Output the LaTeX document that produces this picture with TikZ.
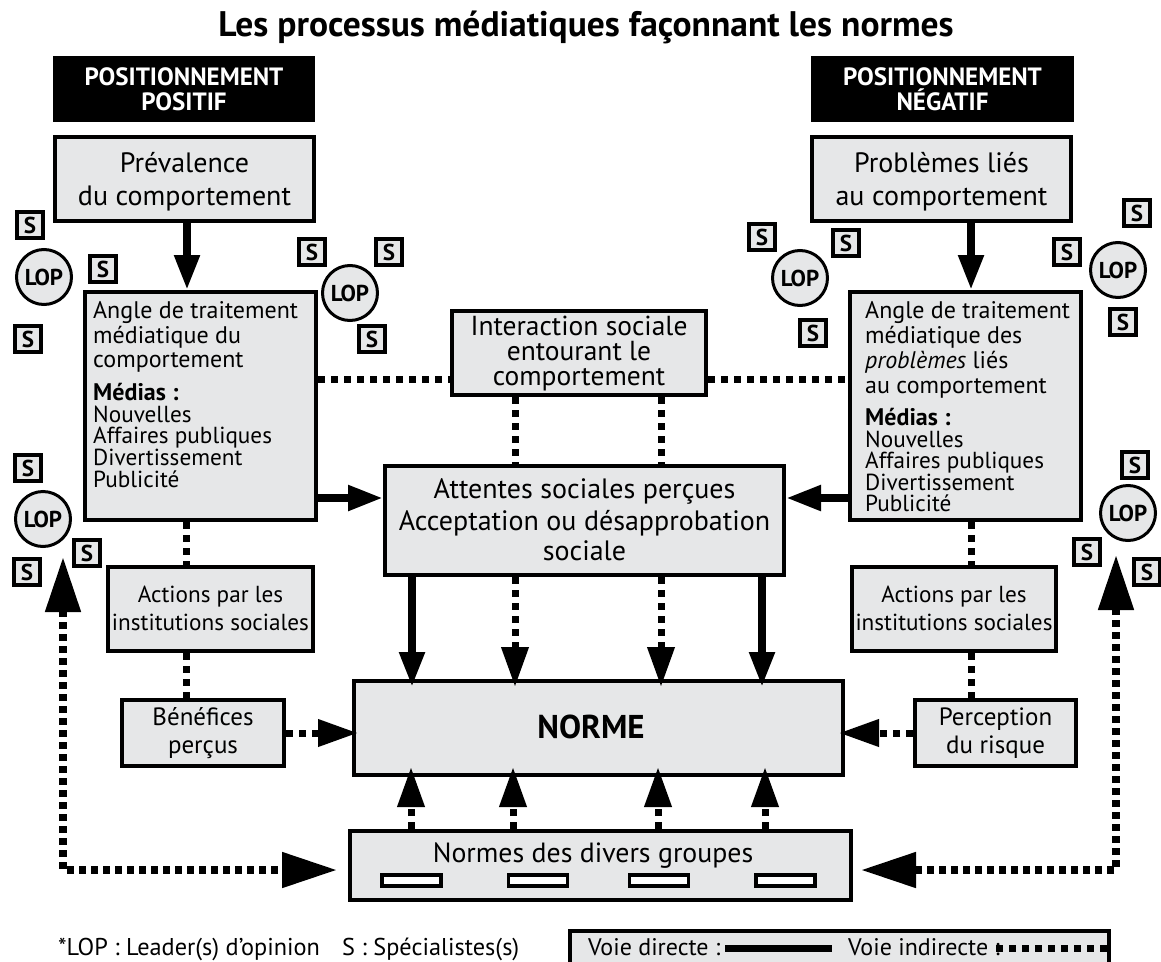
\documentclass[tikz,border=0pt]{standalone}
\usepackage{fontspec}
\setmainfont{PT Sans}
\usetikzlibrary{arrows.meta}
\definecolor{boxgray}{RGB}{230,231,232}
\newcommand{\fsz}[2]{\fontsize{#1}{#2}\selectfont}
\tikzset{
  gbox/.style={draw, line width=4pt, fill=boxgray, inner sep=0pt, align=center},
  blackbox/.style={fill=black, text=white, inner sep=0pt, align=center, font=\fsz{25}{25}\bfseries},
  sbox/.style={draw, line width=3.5pt, fill=boxgray, minimum size=26pt, inner sep=0pt, font=\fsz{23}{23}\bfseries},
  lopc/.style={circle, draw, line width=3pt, fill=boxgray, minimum size=55pt, inner sep=0pt, font=\fsz{23}{23}\bfseries},
  minirect/.style={draw, line width=3.5pt, fill=white, minimum width=59pt, minimum height=11pt, inner sep=0pt},
  direct/.style={line width=8pt, -{Triangle[length=35pt,width=24pt]}},
  indirect/.style={line width=7pt, dash pattern=on 7pt off 6pt},
  indarrow/.style={line width=7pt, dash pattern=on 7pt off 6pt, -{Triangle[length=40pt,width=26pt]}},
  loopline/.style={line width=8pt, dash pattern=on 7pt off 5pt, line join=miter,
     {Triangle[length=55pt,width=34pt]}-{Triangle[length=55pt,width=34pt]}},
  txt/.style={inner sep=0pt, anchor=base west},
  btxt/.style={inner sep=0pt, anchor=base},
  bwtxt/.style={inner sep=0pt, anchor=base west},
  listtxt/.style={inner sep=0pt, anchor=base west, font=\fsz{23.2}{22}},
}
\begin{document}
\begin{tikzpicture}[x=1pt,y=-1pt]
\useasboundingbox (0,0) rectangle (1161,961);

% title
\node[btxt, font=\fsz{35.5}{38}\bfseries] (title) at (586,36) {Les processus médiatiques façonnant les normes};

% black headers
\node[blackbox, minimum width=262pt, minimum height=66pt] (blkL) at (184,89) {POSITIONNEMENT\\POSITIF};
\node[blackbox, minimum width=263pt, minimum height=66pt] (blkR) at (942.5,89) {POSITIONNEMENT\\NÉGATIF};

% top boxes
\node[gbox, minimum width=259pt, minimum height=84pt] (prevL) at (184.5,179) {};
\node[gbox, minimum width=259pt, minimum height=84pt] (prevR) at (941.5,179) {};
\node[btxt, font=\fsz{28}{33}] (prevLa) at (184.5,172) {Prévalence};
\node[btxt, font=\fsz{28}{33}] (prevLb) at (184.5,205) {du comportement};
\node[btxt, font=\fsz{28}{33}] (prevRa) at (941.5,172) {Problèmes liés};
\node[btxt, font=\fsz{28}{33}] (prevRb) at (941.5,205) {au comportement};

% angle boxes
\node[gbox, minimum width=231pt, minimum height=228pt] (angL) at (200.5,406) {};
\node[gbox, minimum width=231pt, minimum height=228pt] (angR) at (965.5,406) {};
\begin{scope}[every node/.style={txt, font=\fsz{24}{24}}]
\node (aL1) at (93,318) {Angle de traitement};
\node (aL2) at (93,343) {médiatique du};
\node (aL3) at (93,367) {comportement};
\node (aL4) at (93,400) {\textbf{Médias :}};
\node (aR1) at (865,318) {Angle de traitement};
\node (aR2) at (865,343) {médiatique des};
\node (aR3) at (865,368) {\textit{problèmes} liés};
\node (aR4) at (865,393) {au comportement};
\node (aR5) at (865,425) {\textbf{Médias :}};
\end{scope}
\node[listtxt] (aL5) at (93,422) {Nouvelles};
\node[listtxt] (aL6) at (93,443.5) {Affaires publiques};
\node[listtxt] (aL7) at (93,465) {Divertissement};
\node[listtxt] (aL8) at (93,487) {Publicité};
\node[listtxt] (aR6) at (865,447) {Nouvelles};
\node[listtxt] (aR7) at (865,468.5) {Affaires publiques};
\node[listtxt] (aR8) at (865,490) {Divertissement};
\node[listtxt] (aR9) at (865,511) {Publicité};

% centre boxes
\node[gbox, minimum width=254pt, minimum height=84pt] (inter) at (579,353) {};
\node[btxt, font=\fsz{27.5}{25}] (intera) at (579,335) {Interaction sociale};
\node[btxt, font=\fsz{27.5}{25}] (interb) at (579,360) {entourant le};
\node[btxt, font=\fsz{27.5}{25}] (interc) at (579,385) {comportement};
\node[gbox, minimum width=399pt, minimum height=109pt] (att) at (584.5,520.5) {};
\node[btxt, font=\fsz{28}{31}] (atta) at (584.5,498) {Attentes sociales perçues};
\node[btxt, font=\fsz{28}{31}] (attb) at (584.5,530) {Acceptation ou désapprobation};
\node[btxt, font=\fsz{28}{31}] (attc) at (584.5,560) {sociale};

% actions
\node[gbox, minimum width=205pt, minimum height=84pt] (actL) at (210.5,609) {};
\node[gbox, minimum width=204pt, minimum height=84pt] (actR) at (954,609) {};
\node[btxt, font=\fsz{23.2}{28}] (actLa) at (210.5,602) {Actions par les};
\node[btxt, font=\fsz{23.2}{28}] (actLb) at (210.5,630) {institutions sociales};
\node[btxt, font=\fsz{23.2}{28}] (actRa) at (954,602) {Actions par les};
\node[btxt, font=\fsz{23.2}{28}] (actRb) at (954,630) {institutions sociales};

% benefits / perception
\node[gbox, minimum width=162pt, minimum height=66pt] (benef) at (203,733) {};
\node[gbox, minimum width=161pt, minimum height=66pt] (percep) at (995.5,733) {};
\node[btxt, font=\fsz{25}{28}] (benefa) at (203,725) {Bénéfices};
\node[btxt, font=\fsz{25}{28}] (benefb) at (203,753) {perçus};
\node[btxt, font=\fsz{25}{28}] (percepa) at (995.5,725) {Perception};
\node[btxt, font=\fsz{25}{28}] (percepb) at (995.5,753) {du risque};

% norme
\node[gbox, minimum width=489pt, minimum height=94pt] (norme) at (598.5,728) {};
\node[btxt, font=\fsz{33}{33}\bfseries] (normet) at (591,738) {NORME};

% normes des divers groupes
\node[gbox, minimum width=501pt, minimum height=69pt] (normes) at (600.5,865.5) {};
\node[btxt, font=\fsz{27.8}{28}] (normest) at (593,862) {Normes des divers groupes};
\node[minirect] (r1) at (411.5,880.5) {};
\node[minirect] (r2) at (538,880.5) {};
\node[minirect] (r3) at (659,880.5) {};
\node[minirect] (r4) at (785.5,880.5) {};

% LOP and S
\node[sbox] (s1) at (30,225) {S};
\node[lopc] (lop1) at (44,277) {LOP};
\node[sbox] (s2) at (103,269) {S};
\node[sbox] (s3) at (28,339) {S};

\node[sbox] (s4) at (312,252) {S};
\node[sbox] (s5) at (389,252) {S};
\node[lopc] (lop2) at (350,293) {LOP};
\node[sbox] (s6) at (372,339) {S};

\node[sbox] (s7) at (762,237) {S};
\node[sbox] (s8) at (846,243) {S};
\node[lopc] (lop3) at (800,278) {LOP};
\node[sbox] (s9) at (813,333) {S};

\node[sbox] (s10) at (1137,213) {S};
\node[sbox] (s11) at (1067,252) {S};
\node[lopc] (lop4) at (1118,270) {LOP};
\node[sbox] (s12) at (1123,322) {S};

\node[sbox] (s13) at (28,468) {S};
\node[lopc] (lop5) at (43,519) {LOP};
\node[sbox] (s14) at (87,553) {S};
\node[sbox] (s15) at (27,572) {S};

\node[sbox] (s16) at (1135,465) {S};
\node[lopc] (lop6) at (1128,513) {LOP};
\node[sbox] (s17) at (1087,552) {S};
\node[sbox] (s18) at (1147,572) {S};

% helper coordinates
\coordinate (xa) at (187,0);
\coordinate (xb) at (971,0);
\coordinate (xc) at (186,0);
\coordinate (y1) at (0,379);
\coordinate (y2) at (0,498);
\coordinate (y3) at (0,733);
\coordinate (v1) at (412,0);
\coordinate (v2) at (515,0);
\coordinate (v3) at (661,0);
\coordinate (v4) at (762,0);
\coordinate (u1) at (411,0);
\coordinate (u2) at (513,0);
\coordinate (u3) at (658,0);
\coordinate (u4) at (765,0);
\coordinate (ltipL) at (63,557);
\coordinate (lcorL) at (63,870);
\coordinate (ltipR) at (1116,555);
\coordinate (lcorR) at (1116,870);

% connectors
\draw[direct] (prevL.south -| xa) -- (angL.north -| xa);
\draw[direct] (prevR.south -| xb) -- (angR.north -| xb);
\draw[indirect] (angL.east |- y1) -- (inter.west |- y1);
\draw[indirect] (inter.east |- y1) -- (angR.west |- y1);
\draw[indirect] (inter.south -| v2) -- (att.north -| v2);
\draw[indirect] (inter.south -| v3) -- (att.north -| v3);
\draw[direct] (angL.east |- y2) -- (att.west |- y2);
\draw[direct] (angR.west |- y2) -- (att.east |- y2);
\draw[indirect] (angL.south -| xc) -- (actL.north -| xc);
\draw[indirect] (actL.south -| xc) -- (benef.north -| xc);
\draw[indirect] (angR.south -| xb) -- (actR.north -| xb);
\draw[indirect] (actR.south -| xb) -- (percep.north -| xb);
\draw[direct, shorten >=-8pt] (att.south -| v1) -- (norme.north -| v1);
\draw[indarrow, shorten >=-8pt] (att.south -| v2) -- (norme.north -| v2);
\draw[indarrow, shorten >=-8pt] (att.south -| v3) -- (norme.north -| v3);
\draw[direct, shorten >=-8pt] (att.south -| v4) -- (norme.north -| v4);
\draw[indarrow, shorten >=-10pt] (normes.north -| u1) -- (norme.south -| u1);
\draw[indarrow, shorten >=-10pt] (normes.north -| u2) -- (norme.south -| u2);
\draw[indarrow, shorten >=-10pt] (normes.north -| u3) -- (norme.south -| u3);
\draw[indarrow, shorten >=-10pt] (normes.north -| u4) -- (norme.south -| u4);
\draw[indarrow, shorten >=-6pt] (benef.east |- y3) -- (norme.west |- y3);
\draw[indarrow, shorten >=-6pt] (percep.west |- y3) -- (norme.east |- y3);
\draw[loopline, shorten >=11pt] (ltipL) -- (lcorL) -- (normes.west |- lcorL);
\draw[loopline, shorten >=8pt] (ltipR) -- (lcorR) -- (normes.east |- lcorR);

% legend
\node[bwtxt, font=\fsz{24.3}{24}] (leg1) at (58,955) {*LOP : Leader(s) d’opinion};
\node[bwtxt, font=\fsz{24.3}{24}] (leg2) at (342,955) {S : Spécialistes(s)};
\node[draw, line width=4pt, fill=boxgray, minimum width=539pt, minimum height=60pt, inner sep=0pt] (legbox) at (839.5,961) {};
\node[bwtxt, font=\fsz{24}{24}] (legd) at (588,955) {Voie directe :};
\node[bwtxt, font=\fsz{24}{24}] (legi) at (848,955) {Voie indirecte :};
\coordinate (ld1) at (725,948);
\coordinate (ld2) at (832,948);
\coordinate (li1) at (996,948);
\coordinate (li2) at (1108,948);
\draw[line width=7pt] (ld1) -- (ld2);
\draw[indirect] (li1) -- (li2);
\end{tikzpicture}
\end{document}
